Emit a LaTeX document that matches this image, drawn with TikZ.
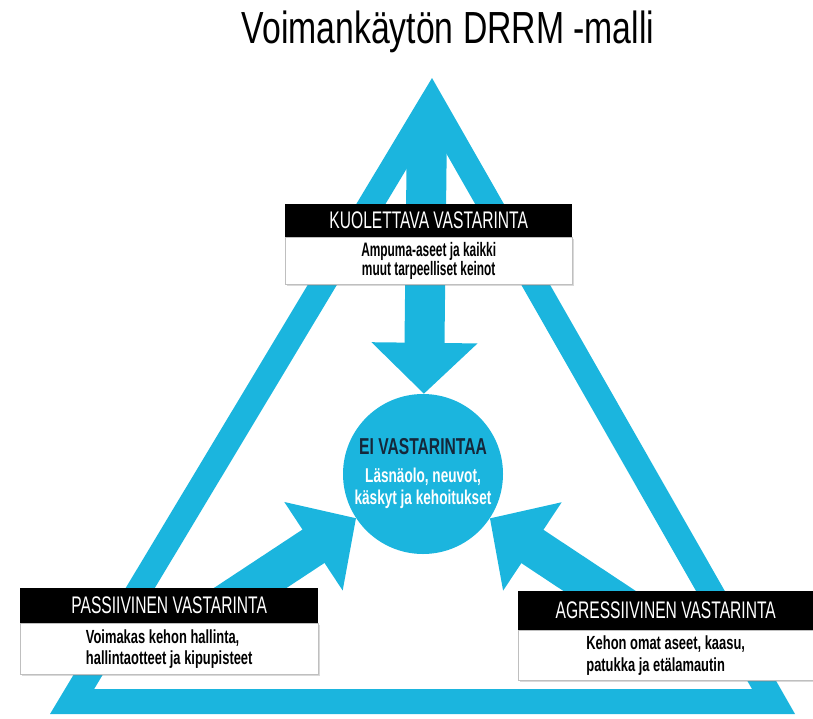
\documentclass[tikz,border=0pt]{standalone}
\usepackage{fontspec}
\setmainfont{Liberation Sans}
\newfontfamily\agency[FakeStretch=0.65]{Liberation Sans}
\newfontfamily\agencywide[FakeStretch=0.68]{Liberation Sans}
\newfontfamily\agencynarrow[FakeStretch=0.61]{Liberation Sans}
\newfontfamily\agencytitle[FakeStretch=0.75]{Liberation Sans}
\usetikzlibrary{positioning,calc,arrows.meta,shadows}

\definecolor{drrmblue}{HTML}{1BB5DE}
\definecolor{drrmnavy}{HTML}{15273A}
\newcommand{\eisub}{\agencywide\bfseries\fontsize{20}{22}\selectfont\color{white}}

\tikzset{
  headbox/.style={fill=black,text=white,minimum height=34pt,inner sep=0pt,%
    font=\agency\fontsize{24}{26}\selectfont},
  bodybox/.style={fill=white,draw=gray!50,minimum height=50pt,inner sep=0pt,%
    drop shadow={shadow xshift=1.5pt,shadow yshift=-1.5pt,opacity=0.3},%
    font=\agencywide\bfseries\fontsize{19}{21.5}\selectfont},
  bigarrow/.style={drrmblue,line width=40pt,-{Triangle[length=51pt,width=103pt]}},
}

\begin{document}
\begin{tikzpicture}[x=1pt,y=-1pt]
      \useasboundingbox (0,0) rectangle (813,718);
      \node[font=\agencytitle\fontsize{45}{50}\selectfont,anchor=base](title) at (448,43){Voimankäytön DRRM -malli};
      %
      \coordinate (bl) at (50,714);
      \coordinate (br) at (795,714);
      \coordinate (top) at (432,78);
      \coordinate (inc) at (427.3,500.5);
      \fill[drrmblue,even odd rule] (bl) -- (br) -- (top) -- cycle
        ($(inc)!0.883!(bl)$) -- ($(inc)!0.883!(br)$) -- ($(inc)!0.883!(top)$) -- cycle;
      %
      \node[circle,fill=drrmblue,minimum size=160pt,inner sep=0pt,align=center,
        font=\agencywide\bfseries\fontsize{23}{27}\selectfont,text=drrmnavy](ei) at (423,474)
        {EI VASTARINTAA\\[1pt]{\eisub Läsnäolo, neuvot,}\\[-5pt]{\eisub käskyt ja kehoitukset}};
      \coordinate (kfoot) at (427,124);
      \coordinate (pfoot) at (188,629);
      \coordinate (afoot) at (657,629);
      \draw[bigarrow] (kfoot) -- (ei);
      \draw[bigarrow] (pfoot) -- (ei);
      \draw[bigarrow] (afoot) -- (ei);
      %
      \node[headbox,minimum width=287pt,minimum height=33pt,anchor=north west](kuolhead) at (285,204){KUOLETTAVA VASTARINTA};
      \node[bodybox,minimum width=287pt,minimum height=47pt,below=0pt of kuolhead,align=center,
        font=\agencynarrow\bfseries\fontsize{19.5}{19.5}\selectfont](kuolbody)
        {Ampuma-aseet ja kaikki\\muut tarpeelliset keinot};
      \node[headbox,minimum width=298pt,minimum height=35pt,anchor=north west](passhead) at (20,588){PASSIIVINEN VASTARINTA};
      \node[bodybox,minimum width=298pt,minimum height=51pt,below=0pt of passhead,align=left](passbody)
        {Voimakas kehon hallinta,\\hallintaotteet ja kipupisteet};
      \node[headbox,minimum width=295pt,minimum height=39pt,anchor=north west](agrhead) at (518,591){AGRESSIIVINEN VASTARINTA};
      \node[bodybox,minimum width=295pt,minimum height=50pt,below=0pt of agrhead,align=left](agrbody)
        {Kehon omat aseet, kaasu,\\patukka ja etälamautin};
    \end{tikzpicture}
\end{document}
